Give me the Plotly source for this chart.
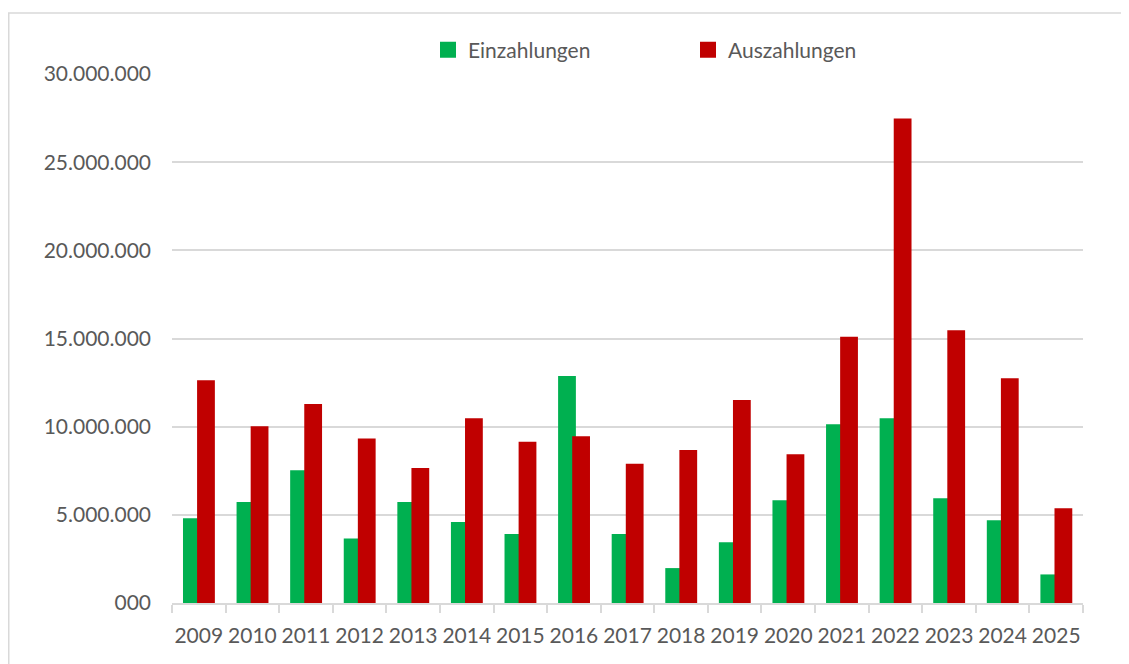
import plotly.graph_objects as go

years = ["2009", "2010", "2011", "2012", "2013", "2014", "2015", "2016", "2017",
         "2018", "2019", "2020", "2021", "2022", "2023", "2024", "2025"]
einzahlungen = [4800000, 5730000, 7530000, 3660000, 5730000, 4590000, 3910000, 12870000, 3910000,
                1980000, 3450000, 5820000, 10130000, 10480000, 5940000, 4690000, 1620000]
auszahlungen = [12630000, 10030000, 11280000, 9330000, 7660000, 10480000, 9140000, 9460000, 7890000,
                8680000, 11510000, 8440000, 15100000, 27470000, 15470000, 12740000, 5370000]
y_tickvals = [0, 5000000, 10000000, 15000000, 20000000, 25000000, 30000000]
y_ticktext = ["000", "5.000.000", "10.000.000", "15.000.000", "20.000.000", "25.000.000", "30.000.000"]

GREEN = "#00B050"
RED = "#C00000"
GRID = "#D9D9D9"
TXT = "#595959"
FONT = "Lato, 'Open Sans', sans-serif"

W, H = 1121, 656
L, R, T, B = 164, 46, 66, 61
PW, PH = W - L - R, H - T - B

fig = go.Figure()
fig.add_trace(go.Bar(x=years, y=einzahlungen, name="Einzahlungen", marker_color=GREEN,
                     marker_line_width=0, offset=-0.295, width=0.332, showlegend=False))
fig.add_trace(go.Bar(x=years, y=auszahlungen, name="Auszahlungen", marker_color=RED,
                     marker_line_width=0, offset=-0.032, width=0.332, showlegend=False))
# legend entries
fig.add_trace(go.Scatter(x=[None], y=[None], mode="markers", name="Einzahlungen",
                         marker=dict(symbol="square", size=16, color=GREEN)))
fig.add_trace(go.Scatter(x=[None], y=[None], mode="markers", name="Auszahlungen",
                         marker=dict(symbol="square", size=16, color=RED)))

fig.update_layout(
    width=W, height=H,
    margin=dict(l=L, r=R, t=T, b=B, autoexpand=False),
    paper_bgcolor="white", plot_bgcolor="white",
    barmode="overlay",
    font=dict(family=FONT, size=21, color=TXT),
    legend=dict(orientation="h", xref="container", yref="container",
                x=420/W, xanchor="left", y=1-42/H, yanchor="middle",
                entrywidth=215, entrywidthmode="pixels", itemsizing="trace",
                font=dict(family=FONT, size=21, color=TXT), bgcolor="rgba(0,0,0,0)"),
    xaxis=dict(type="category", showgrid=False, showline=True, linecolor=GRID, linewidth=1.5,
               ticks="outside", tickson="boundaries", ticklen=8, tickcolor=GRID, tickwidth=1.5,
               tickangle=0, automargin=False, ticklabelstandoff=13,
               tickfont=dict(family=FONT, size=21, color=TXT), range=[-0.5, 16.5]),
    yaxis=dict(range=[0, 30000000], tickvals=y_tickvals, ticktext=y_ticktext,
               showgrid=True, gridcolor=GRID, gridwidth=1.5, zeroline=False, showline=False,
               ticks="", ticklabelstandoff=20, automargin=False,
               tickfont=dict(family=FONT, size=21, color=TXT)),
    shapes=[dict(type="rect", xref="paper", yref="paper",
                 x0=(0.75 - L)/PW, x1=1.2, y0=-0.3, y1=1+(T-5)/PH,
                 line=dict(color=GRID, width=1.5), fillcolor="rgba(0,0,0,0)", layer="below")],
)

fig.write_html("out.html")
